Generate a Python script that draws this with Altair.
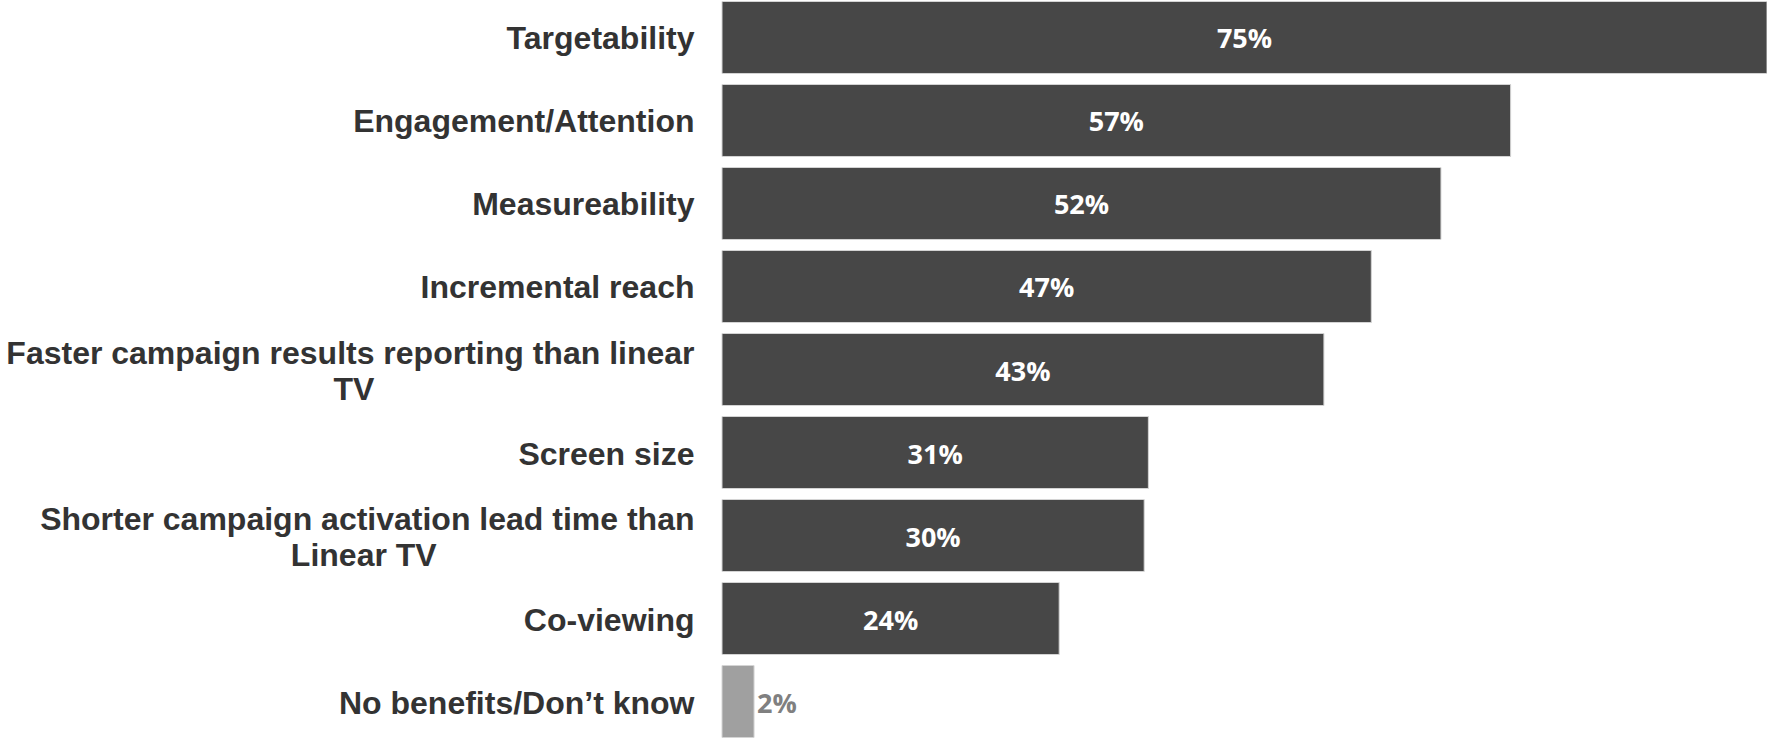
import altair as alt
import pandas as pd

# ---- data ----
categories = [
    "Targetability",
    "Engagement/Attention",
    "Measureability",
    "Incremental reach",
    "Faster campaign results reporting than linear|TV",
    "Screen size",
    "Shorter campaign activation lead time than|Linear TV",
    "Co-viewing",
    "No benefits/Don’t know",
]
values = [75, 56.6, 51.6, 46.6, 43.2, 30.6, 30.3, 24.2, 2.3]
groups = ["benefit"] * 8 + ["none"]

# ---- layout helpers: center the second line of two-line labels ----
# approximate Arial/Liberation Sans Bold advance widths (per 1000 em)
W = {" ": 278, "\u00a0": 278, "a": 556, "b": 611, "c": 556, "d": 611, "e": 556,
     "f": 333, "g": 611, "h": 611, "i": 278, "l": 278, "m": 889, "n": 611,
     "o": 611, "p": 611, "r": 389, "s": 556, "t": 333, "u": 611, "v": 556,
     "w": 778, "y": 556, "k": 556, "T": 611, "V": 667, "L": 611, "F": 611,
     "S": 667}


def text_w(s):
    return sum(W.get(c, 556) for c in s)


def center_lines(label):
    parts = label.split("|")
    if len(parts) == 1:
        return label
    first, second = parts
    pad = round((text_w(first) - text_w(second)) / 2 / W["\u00a0"])
    # zero-width space keeps the trailing no-break spaces from being trimmed
    return first + "|" + second + "\u00a0" * pad + "\u200b"


display = [center_lines(c) for c in categories]

df = pd.DataFrame({
    "display": display,
    "value": values,
    "group": groups,
})
df["mid"] = df["value"] / 2
df["label"] = [f"{int(v + 0.5)}%" for v in values]

y_sort = display

base = alt.Chart(df)

bars = base.mark_bar(stroke="#d4d4d4", strokeWidth=1).encode(
    y=alt.Y(
        "display:N",
        sort=y_sort,
        scale=alt.Scale(paddingInner=0.1325, paddingOuter=0.018),
        axis=alt.Axis(
            title=None,
            domain=False,
            ticks=False,
            labelPadding=28,
            labelFont="Liberation Sans",
            labelFontSize=32,
            labelFontWeight="bold",
            labelColor="#333333",
            labelLimit=1000,
            labelLineHeight=36,
            labelOffset={
                "condition": {"test": "indexof(datum.label, '|') >= 0", "value": -16},
                "value": 2,
            },
            labelExpr="split(datum.label, '|')",
        ),
    ),
    x=alt.X("value:Q", scale=alt.Scale(domain=[0, 75], nice=False), axis=None),
    color=alt.Color(
        "group:N",
        scale=alt.Scale(domain=["benefit", "none"], range=["#474747", "#a0a0a0"]),
        legend=None,
    ),
)

inside = base.transform_filter("datum.group == 'benefit'").mark_text(
    color="white", font="Open Sans", fontWeight="bold", fontSize=27,
    baseline="middle", dy=3
).encode(
    y=alt.Y("display:N", sort=y_sort),
    x=alt.X("mid:Q"),
    text="label:N",
)

outside = base.transform_filter("datum.group == 'none'").mark_text(
    color="#808080", font="Open Sans", fontWeight="bold", fontSize=27,
    baseline="middle", align="left", dx=3, dy=3
).encode(
    y=alt.Y("display:N", sort=y_sort),
    x=alt.X("value:Q"),
    text="label:N",
)

chart = alt.layer(bars, inside, outside).properties(
    width=1045,
    height=739,
    padding={"left": 722, "right": 0, "top": 0, "bottom": 0},
    autosize=alt.AutoSizeParams(type="none"),
    background="white",
).configure_view(stroke=None)

chart.save("out.html", embed_options={"renderer": "svg", "actions": False})
